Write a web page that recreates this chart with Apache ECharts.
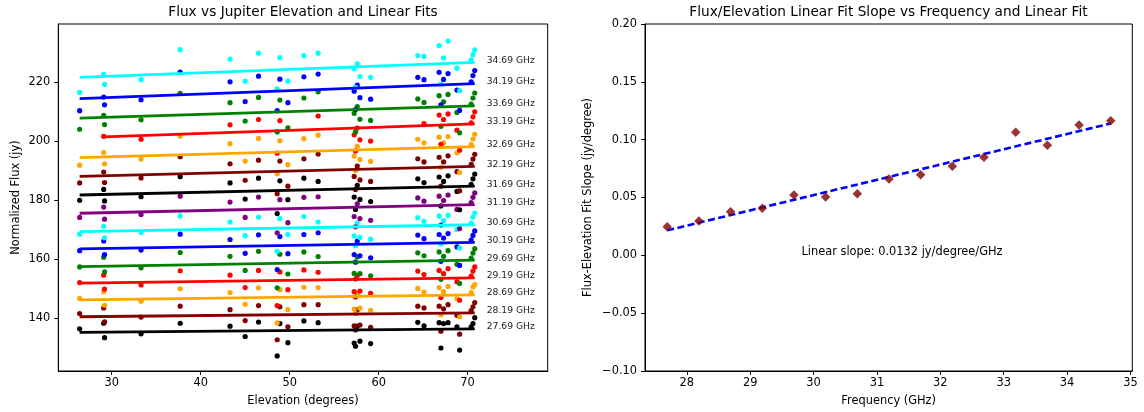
<!DOCTYPE html>
<html><head><meta charset="utf-8">
<script src="https://cdn.jsdelivr.net/npm/echarts@6/dist/echarts.min.js"></script>
<style>html,body{margin:0;padding:0;background:#fff}#c{width:1144px;height:412px}</style>
</head><body><div id="c"></div>
<script>
// ---- Left panel data ----
const elevations = [26.4, 29.1, 29.2, 33.3, 37.7, 43.3, 45.0, 46.5, 48.6, 48.9, 49.8, 51.6, 53.2, 57.25, 57.4, 57.6, 57.9, 59.1, 64.4, 65.1, 66.8, 67.0, 67.3, 67.8, 68.8, 69.1, 70.4, 70.6, 70.8];
const freqLabels = ['27.69 GHz','28.19 GHz','28.69 GHz','29.19 GHz','29.69 GHz','30.19 GHz','30.69 GHz','31.19 GHz','31.69 GHz','32.19 GHz','32.69 GHz','33.19 GHz','33.69 GHz','34.19 GHz','34.69 GHz'];
const flux2769 = [136.4,138.3,133.4,134.7,138.3,137.3,133.8,138.7,127.2,138.2,131.7,139.1,138.5,131.6,130.5,137.3,132.2,131.4,138.6,137.4, 138.5,129.9,138.2,138.5,137.1,129.2,137.1,138.2,140.2];
const flux2819 = [141.6,143.5,138.8,140.4,144.1,142.9,139.2,144.3,132.7,143.9,137.1,144.6,144.6,137.4,136.0,142.8,137.7,136.9,144.1,143.5, 144.1,135.6,143.2,144.6,141.0,134.6,142.6,143.9,145.3];
const flux2869 = [146.7,149.0,144.4,145.8,150.0,148.7,144.7,150.3,138.4,149.7,142.9,150.5,150.4,143.1,141.6,148.4,143.4,142.7,150.1,148.9, 150.4,141.2,149.0,150.8,146.6,140.5,148.7,150.6,151.4];
const flux2919 = [152.1,154.6,149.9,151.3,156.1,154.6,150.4,156.2,144.3,155.7,149.7,156.4,155.6,149.0,147.2,154.5,149.2,148.4,156.0,154.8, 156.2,147.0,155.1,156.8,152.4,146.1,154.3,156.0,157.4];
const flux2969 = [157.4,160.7,155.7,157.1,162.3,161.0,156.2,162.7,150.3,161.7,155.0,162.5,160.9,155.2,153.3,160.8,155.1,154.4,162.2,161.2, 162.5,153.2,161.0,162.9,158.3,151.8,160.4,162.1,163.6];
const flux3019 = [162.9,166.2,161.6,163.1,168.5,166.7,162.0,168.3,156.5,167.7,161.9,168.4,169.0,161.6,159.0,166.2,161.2,160.5,168.2,167.0, 168.4,159.3,167.2,168.7,164.2,157.9,166.5,168.1,169.6];
const flux3069 = [168.5,171.2,167.3,169.1,174.7,172.6,168.0,174.3,162.7,173.8,168.4,174.5,172.6,167.9,164.6,172.3,167.4,166.8,174.1,172.9, 174.6,165.2,173.1,174.9,170.1,163.8,172.3,174.3,175.7];
const flux3119 = [174.2,177.7,173.6,175.2,181.4,179.4,174.2,181.1,169.0,180.2,172.4,181.0,181.2,174.5,171.0,178.8,173.8,173.2,180.8,179.7, 181.4,171.6,179.9,181.8,176.9,170.4,179.2,181.0,182.5];
const flux3169 = [180.0,183.7,179.8,181.2,188.0,185.9,180.4,187.5,175.5,186.6,180.2,187.5,186.4,181.1,176.9,185.1,180.3,179.6,187.3,186.0, 187.9,178.1,186.4,188.3,183.0,176.8,185.4,187.3,188.9];
const flux3219 = [185.9,189.6,186.0,187.6,194.8,192.4,186.8,193.6,182.2,193.3,184.8,194.1,195.7,188.1,183.7,191.6,186.9,186.4,194.1,193.0, 194.6,184.8,193.0,195.1,189.7,183.2,192.2,194.0,195.6];
const flux3269 = [191.9,196.2,192.4,194.0,201.8,199.2,193.3,201.0,189.0,200.2,192.1,200.9,202.1,195.0,190.1,198.3,193.8,193.2,200.7,199.5, 201.4,191.2,199.5,201.6,196.1,189.4,198.9,200.8,202.4];
const flux3319 = [null,201.7,null,200.7,null,205.6,null,207.4,196.0,207.0,null,null,208.6,202.2,196.7,204.5,200.5,200.1,null,206.0, 208.9,199.0,207.4,209.3,203.8,197.0,206.3,208.3,210.0];
const flux3369 = [204.1,208.8,205.7,207.3,216.3,213.1,206.9,214.9,203.2,214.0,204.6,214.7,216.8,209.5,203.2,211.8,207.5,207.1,214.4,213.2, 215.5,205.1,213.4,215.9,209.8,202.9,212.6,214.7,216.4];
const flux3419 = [210.4,215.0,212.4,214.1,223.5,220.2,213.5,222.1,210.4,221.1,213.1,221.9,222.8,217.0,210.8,219.1,214.8,214.3,221.7,220.9, 223.4,212.4,221.0,223.0,217.4,210.5,220.2,222.3,224.0];
const flux3469 = [216.6,222.7,219.3,220.9,231.1,227.9,220.4,229.9,217.8,228.4,220.4,229.1,229.9,224.6,218.3,226.3,222.0,221.7,229.1,228.8, 232.5,219.4,228.3,234.0,224.8,217.2,227.6,229.4,231.0];
const fitStartElev = [26.4,26.4,26.4,26.4,26.4,26.4,26.4,26.4,26.4,26.4,26.4,29.1,26.4,26.4,26.4];
const fitEndElev = 70.8;
const fitStart = [135.2,140.5,146.2,151.9,157.5,163.5,169.4,175.6,181.8,188.1,194.5,201.5,207.9,214.5,221.7];
const fitEnd   = [136.4,141.8,147.9,153.7,159.7,165.7,171.7,178.5,184.8,191.5,198.2,205.9,212.0,219.6,226.8];
const leftXTicks = [30,40,50,60,70];
const leftYTicks = [140,160,180,200,220];

// ---- Right panel data ----
const frequencies = [27.69,28.19,28.69,29.19,29.69,30.19,30.69,31.19,31.69,32.19,32.69,33.19,33.69,34.19,34.69];
const slopes = [0.0248,0.0297,0.0377,0.0406,0.0522,0.0504,0.0533,0.0660,0.0697,0.0770,0.0847,0.1064,0.0951,0.1127,0.1164];
const slopeFitX = [27.69, 34.69];
const slopeFitY = [0.0216, 0.1140];
const rightXTicks = [28,29,30,31,32,33,34,35];

const fluxSets = [flux2769,flux2819,flux2869,flux2919,flux2969,flux3019,flux3069,flux3119,flux3169,flux3219,flux3269,flux3319,flux3369,flux3419,flux3469];
const colors = ['#000000','#800000','#ffa500','#ff0000','#008000','#0000ff','#00ffff','#800080','#000000','#800000','#ffa500','#ff0000','#008000','#0000ff','#00ffff'];

const FONT = 'DejaVu Sans';
const series = [];
fluxSets.forEach((arr, i) => {
  const pts = [];
  arr.forEach((v, k) => { if (v !== null) pts.push([elevations[k], v]); });
  series.push({type:'scatter', xAxisIndex:0, yAxisIndex:0, data:pts, symbol:'circle', symbolSize:5.2,
    itemStyle:{color:colors[i], opacity:1}, z:2, silent:true});
});
fluxSets.forEach((arr, i) => {
  series.push({type:'line', xAxisIndex:0, yAxisIndex:0,
    data:[[fitStartElev[i], fitStart[i]], [fitEndElev, fitEnd[i]]],
    symbol:'none', lineStyle:{color:colors[i], width:2.8}, z:3, silent:true, animation:false,
    endLabel:{show:true, formatter:freqLabels[i], color:'#222', fontFamily:FONT, fontSize:9.2, distance:12, offset:[0,-2]}});
});
series.push({type:'line', xAxisIndex:1, yAxisIndex:1,
  data:[[slopeFitX[0], slopeFitY[0]], [slopeFitX[1], slopeFitY[1]]],
  symbol:'none', lineStyle:{color:'#0000ff', width:2.6, type:[7,3.5]}, z:3, silent:true});
series.push({type:'scatter', xAxisIndex:1, yAxisIndex:1,
  data: frequencies.map((f, i) => [f, slopes[i]]),
  symbol:'diamond', symbolSize:9.5, itemStyle:{color:'#800000'}, z:4, silent:true});

const axisCommon = {
  axisLine:{show:true, onZero:false, lineStyle:{color:'#000', width:1}},
  splitLine:{show:false},
  nameLocation:'middle',
  nameTextStyle:{color:'#000', fontFamily:FONT, fontSize:11.4}
};
const lbl = {color:'#000', fontFamily:FONT, fontSize:11.4};

const option = {
  animation:false,
  backgroundColor:'#fff',
  grid:[
    {left:58.3, top:24, width:489.4, height:347, show:true, borderColor:'#000', borderWidth:1, containLabel:false},
    {left:645, top:24, width:487.3, height:347, show:true, borderColor:'#000', borderWidth:1, containLabel:false}
  ],
  xAxis:[
    Object.assign({}, axisCommon, {type:'value', gridIndex:0, min:24, max:79, name:'Elevation (degrees)', nameGap:25,
      axisTick:{show:true, length:4, lineStyle:{color:'#000'}, customValues:leftXTicks},
      axisLabel:Object.assign({margin:7, customValues:leftXTicks}, lbl)}),
    Object.assign({}, axisCommon, {type:'value', gridIndex:1, min:27.34, max:35.03, name:'Frequency (GHz)', nameGap:25,
      axisTick:{show:true, length:4, lineStyle:{color:'#000'}, customValues:rightXTicks},
      axisLabel:Object.assign({margin:7, customValues:rightXTicks}, lbl)})
  ],
  yAxis:[
    Object.assign({}, axisCommon, {type:'value', gridIndex:0, min:122.1, max:239.8, name:'Normalized Flux (jy)', nameGap:37,
      axisTick:{show:true, length:4, lineStyle:{color:'#000'}, customValues:leftYTicks},
      axisLabel:Object.assign({margin:8, customValues:leftYTicks}, lbl)}),
    Object.assign({}, axisCommon, {type:'value', gridIndex:1, min:-0.1, max:0.2, interval:0.05, name:'Flux-Elevation Fit Slope (jy/degree)', nameGap:51,
      axisTick:{show:true, length:4, lineStyle:{color:'#000'}},
      axisLabel:Object.assign({margin:8, formatter: v => v.toFixed(2).replace('-', '\u2212')}, lbl)})
  ],
  graphic:[
    {type:'text', x:303, y:12, style:{text:'Flux vs Jupiter Elevation and Linear Fits', fill:'#000', font:'13.7px "DejaVu Sans"', textAlign:'center', textVerticalAlign:'middle'}},
    {type:'text', x:888.5, y:12, style:{text:'Flux/Elevation Linear Fit Slope vs Frequency and Linear Fit', fill:'#000', font:'13.7px "DejaVu Sans"', textAlign:'center', textVerticalAlign:'middle'}},
    {type:'text', x:902, y:252, style:{text:'Linear slope: 0.0132 jy/degree/GHz', fill:'#000', font:'11.4px "DejaVu Sans"', textAlign:'center', textVerticalAlign:'middle'}}
  ],
  series: series
};
const chart = echarts.init(document.getElementById('c'), null, {renderer:'canvas'});
chart.setOption(option);
</script></body></html>
